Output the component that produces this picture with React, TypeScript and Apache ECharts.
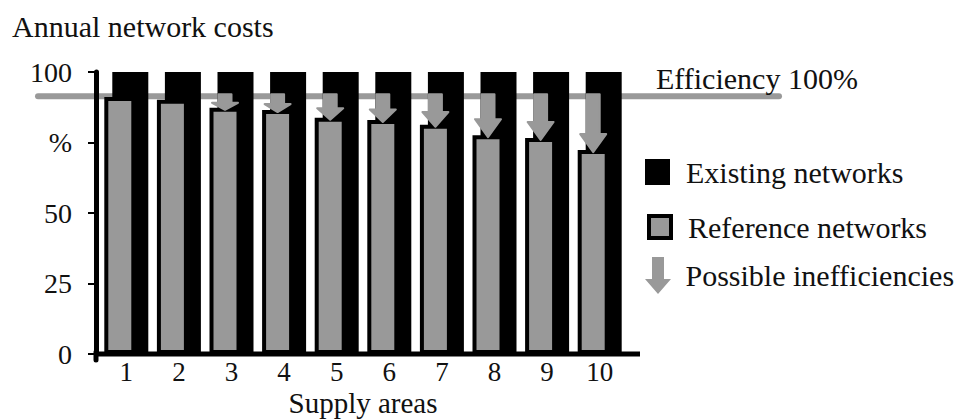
import { useEffect, useRef } from "react";
import * as echarts from "echarts";

// Supply areas on the x axis
const AREAS = ["1", "2", "3", "4", "5", "6", "7", "8", "9", "10"];
// Annual network costs of the existing networks (%)
const EXISTING = [100, 100, 100, 100, 100, 100, 100, 100, 100, 100];
// Annual network costs of the reference networks (%)
const REFERENCE = [91.1, 90.2, 87.3, 86.5, 83.8, 83.0, 81.3, 77.6, 76.6, 72.3];
// Level of the "Efficiency 100%" line (%)
const EFFICIENCY = [91.4];
// Areas (by index) whose gap to the efficiency line is marked with an arrow
const INEFFICIENT = [2, 3, 4, 5, 6, 7, 8, 9];
// Y tick labels: the 75 tick carries the unit
const Y_TICK_LABELS: Record<number, string> = { 0: "0", 25: "25", 50: "50", 75: "%", 100: "100" };

const FONT = "'Liberation Serif', 'Times New Roman', serif";
const TEXT = "#111";
const GREY = "#999999";

// Bar geometry: grey bar sits in front, shifted left over the black bar
const GREY_W = 31;
const BLACK_W = 36;
const GAP = -0.742;
const GROUP_W = GREY_W * (1 + GAP) + BLACK_W;
const GREY_OFFSET = -GROUP_W / 2 + GREY_W / 2;

const ARROW_PATH = "path://M7,0 H19 V22 H26 L13,37 L0,22 H7 Z";

export default function App() {
  const ref = useRef<HTMLDivElement>(null);

  useEffect(() => {
    if (!ref.current) return;
    const chart = echarts.init(ref.current, undefined, { renderer: "svg" });

    const legendText = (pad: number) => ({
      fontSize: 30,
      fontFamily: FONT,
      color: TEXT,
      padding: [0, 0, 0, pad],
    });

    chart.setOption({
      animation: false,
      backgroundColor: "#ffffff",
      title: {
        text: "Annual network costs",
        left: 12,
        top: 11,
        padding: 0,
        textStyle: { fontSize: 30, fontWeight: "normal", fontFamily: FONT, color: TEXT },
      },
      grid: {
        left: 100,
        right: 332,
        top: 72,
        bottom: 65,
        containLabel: false,
        outerBoundsMode: "none",
      },
      legend: [
        {
          left: 645,
          top: 157,
          padding: 0,
          itemWidth: 25,
          itemHeight: 26,
          selectedMode: false,
          data: [{ name: "Existing networks", icon: "rect", itemStyle: { color: "#000" } }],
          textStyle: legendText(11),
        },
        {
          left: 647,
          top: 212,
          padding: 0,
          itemWidth: 22,
          itemHeight: 22,
          selectedMode: false,
          data: [
            {
              name: "Reference networks",
              icon: "rect",
              itemStyle: { color: GREY, borderColor: "#000", borderWidth: 4 },
            },
          ],
          textStyle: legendText(12),
        },
        {
          left: 645,
          top: 257,
          padding: 0,
          itemWidth: 27,
          itemHeight: 37,
          selectedMode: false,
          data: [{ name: "Possible inefficiencies", icon: ARROW_PATH, itemStyle: { color: GREY } }],
          textStyle: legendText(9),
        },
      ],
      xAxis: {
        type: "category",
        data: AREAS,
        axisLine: { show: false },
        axisTick: { show: false },
        axisLabel: { fontSize: 27, lineHeight: 30, fontFamily: FONT, color: TEXT, margin: 3 },
        name: "Supply areas",
        nameLocation: "middle",
        nameGap: 33,
        nameMoveOverlap: false,
        nameTextStyle: { fontSize: 29, lineHeight: 32, fontFamily: FONT, color: TEXT },
      },
      yAxis: {
        type: "value",
        min: 0,
        max: 100,
        interval: 25,
        offset: 4,
        z: 5,
        axisLine: { show: true, lineStyle: { color: "#000", width: 5, cap: "round" } },
        axisTick: { show: true, length: 8, lineStyle: { color: "#000", width: 2 } },
        axisLabel: {
          fontSize: 28,
          fontFamily: FONT,
          color: TEXT,
          margin: 24,
          formatter: (v: number) => Y_TICK_LABELS[v] ?? "",
        },
        splitLine: { show: false },
      },
      graphic: [
        // baseline under the bars, running a little past the last area
        {
          type: "line",
          z: 10,
          shape: { x1: 95, y1: 354, x2: 640, y2: 354 },
          style: { stroke: "#000", lineWidth: 5 },
        },
        // y axis runs slightly below the baseline
        {
          type: "line",
          z: 10,
          shape: { x1: 96, y1: 352, x2: 96, y2: 360 },
          style: { stroke: "#000", lineWidth: 5, lineCap: "round" },
        },
      ],
      series: [
        {
          name: "Reference networks",
          type: "bar",
          data: REFERENCE,
          barWidth: GREY_W,
          barGap: `${GAP * 100}%`,
          z: 3,
          itemStyle: { color: GREY, borderColor: "#000", borderWidth: 4 },
        },
        {
          name: "Existing networks",
          type: "bar",
          data: EXISTING,
          barWidth: BLACK_W,
          barGap: `${GAP * 100}%`,
          z: 2,
          itemStyle: { color: "#000" },
        },
        {
          name: "Possible inefficiencies",
          type: "custom",
          z: 4,
          itemStyle: { color: GREY },
          data: INEFFICIENT.map((i) => [i, REFERENCE[i]]),
          renderItem: (_params: any, api: any) => {
            const idx = api.value(0);
            const base = api.coord([idx, EFFICIENCY[0]]);
            const tip = api.coord([idx, api.value(1)]);
            const cx = base[0] + GREY_OFFSET;
            const y0 = base[1] - 2;
            const y1 = tip[1] + 2;
            const len = y1 - y0;
            const head = Math.min(18, Math.max(7, len * 0.45));
            const sw = 6.5;
            const hw = 13;
            return {
              type: "polygon",
              shape: {
                points: [
                  [cx - sw, y0],
                  [cx + sw, y0],
                  [cx + sw, y1 - head],
                  [cx + hw, y1 - head],
                  [cx, y1],
                  [cx - hw, y1 - head],
                  [cx - sw, y1 - head],
                ],
              },
              style: { fill: GREY, stroke: GREY, lineWidth: 2, lineJoin: "round" },
            };
          },
        },
        {
          name: "Efficiency 100%",
          type: "custom",
          z: 1,
          data: [[0, EFFICIENCY[0]]],
          renderItem: (_params: any, api: any) => {
            const y = api.coord([0, api.value(1)])[1];
            return {
              type: "group",
              children: [
                {
                  type: "line",
                  shape: { x1: 38, y1: y, x2: 779, y2: y },
                  style: { stroke: GREY, lineWidth: 6, lineCap: "round" },
                },
                {
                  type: "text",
                  x: 656,
                  y: y - 3,
                  style: {
                    text: "Efficiency 100%",
                    fontSize: 30,
                    fontFamily: FONT,
                    fill: TEXT,
                    verticalAlign: "bottom",
                  },
                },
              ],
            };
          },
        },
      ],
    });

    return () => chart.dispose();
  }, []);

  return (
    <div
      ref={ref}
      style={{ position: "fixed", left: 0, top: 0, width: 958, height: 419, background: "#fff" }}
    />
  );
}
